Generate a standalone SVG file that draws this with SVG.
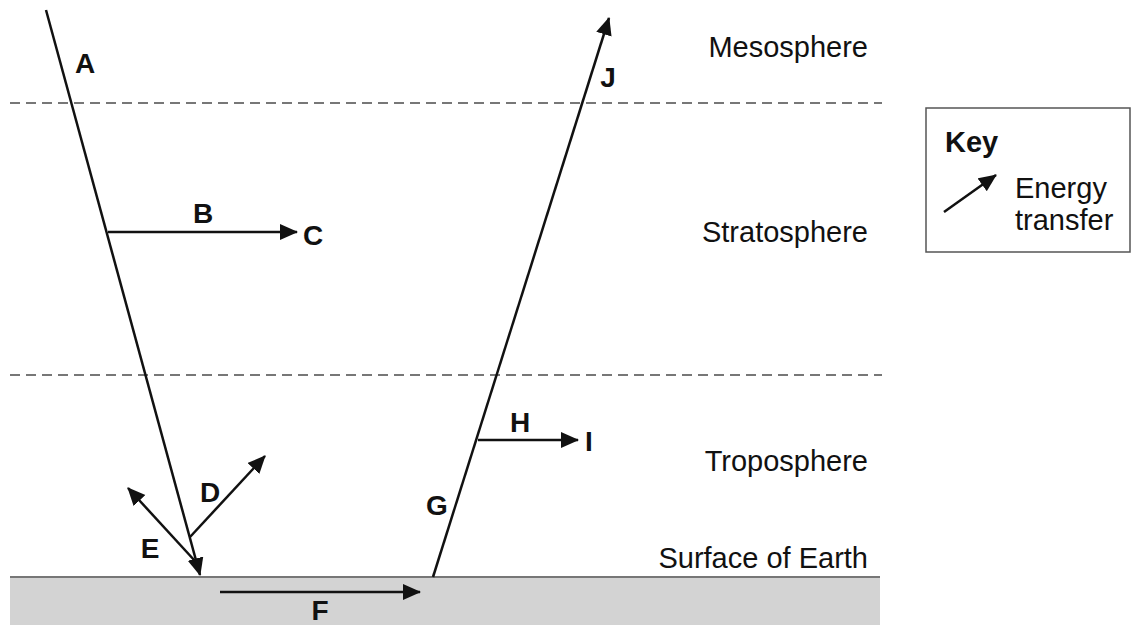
<svg xmlns="http://www.w3.org/2000/svg" width="1133" height="625" viewBox="0 0 1133 625">
<style>
.lbl{font-family:"Liberation Sans",Arial,sans-serif;font-size:28px;font-weight:bold;fill:#111;text-anchor:middle}
.layer{font-family:"Liberation Sans",Arial,sans-serif;font-size:29px;fill:#111;text-anchor:end}
.key{font-family:"Liberation Sans",Arial,sans-serif;font-size:29px;fill:#111}
.ray{stroke:#111;stroke-width:2.5;fill:none}
.dash{stroke:#777;stroke-width:1.8;stroke-dasharray:10 6;fill:none}
</style>
<defs>
<marker id="ah" markerUnits="userSpaceOnUse" markerWidth="20" markerHeight="18" refX="17" refY="8" orient="auto">
<path d="M0,0 L18,8 L0,16 Z" fill="#111"/>
</marker>
</defs>
<rect width="1133" height="625" fill="#fff"/>
<g id="ground">
<rect x="10" y="577" width="870" height="48" fill="#d3d3d3"/>
<line x1="10" y1="577" x2="880" y2="577" stroke="#777" stroke-width="2"/>
</g>
<g id="boundaries">
<line class="dash" x1="10" y1="103" x2="882" y2="103"/>
<line class="dash" x1="10" y1="375" x2="882" y2="375"/>
</g>
<g id="connectors">
<line class="ray" x1="46" y1="10" x2="200" y2="575" marker-end="url(#ah)"/>
<line class="ray" x1="108" y1="232" x2="297" y2="232" marker-end="url(#ah)"/>
<line class="ray" x1="190" y1="537" x2="265" y2="456" marker-end="url(#ah)"/>
<line class="ray" x1="195" y1="561" x2="128" y2="488" marker-end="url(#ah)"/>
<line class="ray" x1="220" y1="592" x2="420" y2="592" marker-end="url(#ah)"/>
<line class="ray" x1="433" y1="577" x2="609" y2="18" marker-end="url(#ah)"/>
<line class="ray" x1="478" y1="440" x2="578" y2="440" marker-end="url(#ah)"/>
</g>
<g id="labels">
<text class="lbl" x="85" y="73">A</text>
<text class="lbl" x="203" y="223">B</text>
<text class="lbl" x="313" y="245">C</text>
<text class="lbl" x="210" y="502">D</text>
<text class="lbl" x="150" y="558">E</text>
<text class="lbl" x="320" y="620">F</text>
<text class="lbl" x="437" y="515">G</text>
<text class="lbl" x="520" y="432">H</text>
<text class="lbl" x="589" y="451">I</text>
<text class="lbl" x="608" y="87">J</text>
</g>
<g id="layers">
<text class="layer" x="868" y="57">Mesosphere</text>
<text class="layer" x="868" y="242">Stratosphere</text>
<text class="layer" x="868" y="471">Troposphere</text>
<text class="layer" x="868" y="568">Surface of Earth</text>
</g>
<g id="key">
<rect x="926" y="108" width="204" height="144" fill="#fff" stroke="#555" stroke-width="1.5"/>
<text class="key" x="945" y="152" style="font-weight:bold">Key</text>
<line class="ray" x1="944" y1="212" x2="996" y2="175" marker-end="url(#ah)"/>
<text class="key" x="1015" y="198">Energy</text>
<text class="key" x="1015" y="230">transfer</text>
</g>
</svg>
